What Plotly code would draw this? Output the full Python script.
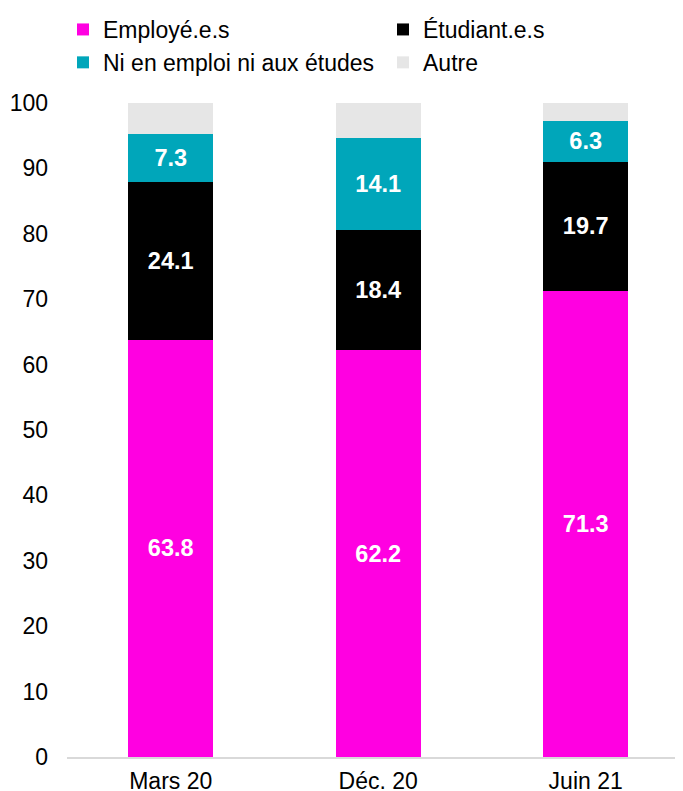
import plotly.graph_objects as go

categories = ["Mars 20", "Déc. 20", "Juin 21"]
employes = [63.8, 62.2, 71.3]
etudiants = [24.1, 18.4, 19.7]
ni_ni = [7.3, 14.1, 6.3]
autre = [4.8, 5.3, 2.7]

series = [
    ("Employé.e.s", employes, "#FF00E1", True, "legend"),
    ("Étudiant.e.s", etudiants, "#000000", True, "legend2"),
    ("Ni en emploi ni aux études", ni_ni, "#00A6BA", True, "legend"),
    ("Autre", autre, "#E6E6E6", False, "legend2"),
]

FONT = "Liberation Sans, Arial, sans-serif"

fig = go.Figure()
for name, vals, color, show, leg in series:
    fig.add_trace(go.Bar(
        x=categories, y=vals, name=name, legend=leg,
        marker=dict(color=color, line=dict(width=0)),
        width=0.41,
        text=[f"{v:.1f}" for v in vals] if show else None,
        texttemplate="%{text}" if show else None,
        textposition="inside" if show else "none",
        insidetextanchor="middle",
        textangle=0,
        textfont=dict(color="white", size=23.5, family=FONT, weight="bold"),
        hoverinfo="skip",
    ))

leg_common = dict(
    orientation="v", yref="container", y=1.0124, yanchor="top",
    xref="container", xanchor="left",
    font=dict(size=23, family=FONT), itemwidth=30, tracegroupgap=0,
    traceorder="normal", bgcolor="rgba(0,0,0,0)",
)

# page body has an 8px margin, so the figure is 675x783
fig.update_layout(
    barmode="stack",
    width=675, height=783,
    margin=dict(l=59, r=0, t=95, b=34, autoexpand=False),
    paper_bgcolor="white", plot_bgcolor="white",
    font=dict(family=FONT, size=23, color="black"),
    uniformtext=dict(minsize=10, mode="show"),
    legend=dict(x=55 / 675, **leg_common),
    legend2=dict(x=375 / 675, **leg_common),
    xaxis=dict(
        range=[-0.5, 2.469], showline=True, linecolor="#D9D9D9", linewidth=2,
        ticks="", tickfont=dict(size=23), showgrid=False, automargin=False,
        ticklabelstandoff=2,
    ),
    yaxis=dict(
        range=[0, 100], dtick=10, showgrid=False, zeroline=False,
        showline=False, ticks="", tickfont=dict(size=23), ticklabelstandoff=18,
        automargin=False,
    ),
)

fig.write_html("out.html")
